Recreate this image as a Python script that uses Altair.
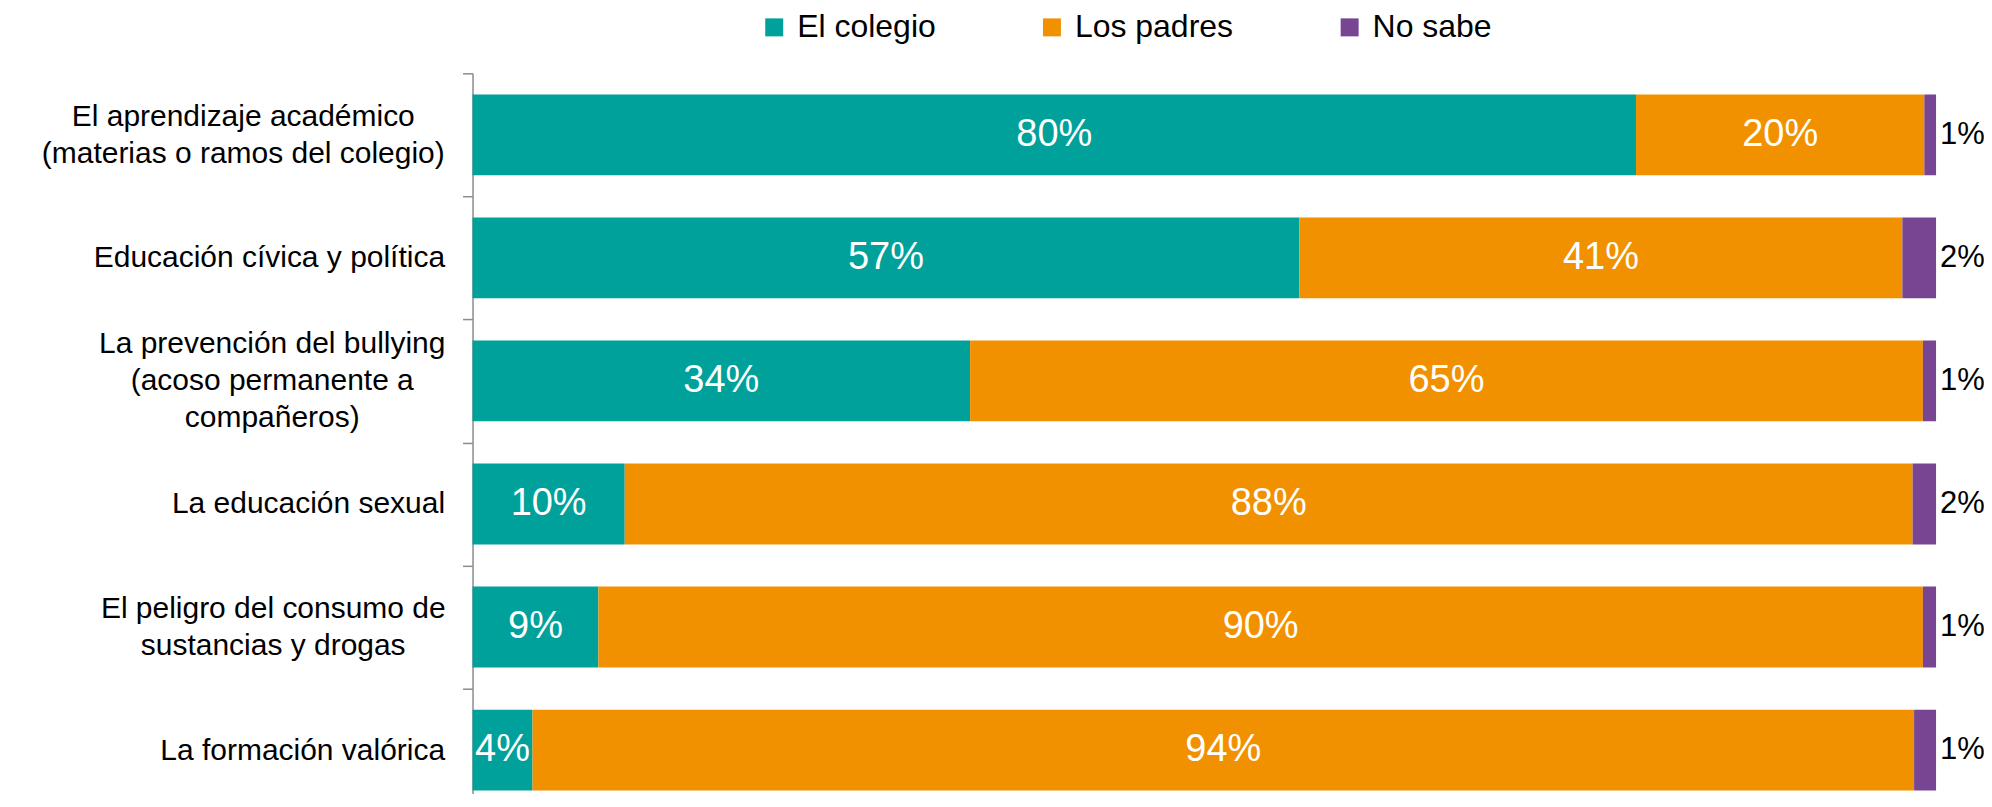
import altair as alt
import pandas as pd

# ---- data ----
categories = [
    "El aprendizaje académico|(materias o ramos del colegio)",
    "Educación cívica y política",
    "La prevención del bullying|(acoso permanente a|compañeros)",
    "La educación sexual",
    "El peligro del consumo de|sustancias y drogas",
    "La formación valórica",
]
series = ["El colegio", "Los padres", "No sabe"]
colors = ["#00A19A", "#F29100", "#774591"]

colegio = [79.5, 56.5, 34.0, 10.4, 8.6, 4.1]
padres = [19.7, 41.2, 65.1, 88.0, 90.5, 94.4]
no_sabe = [0.8, 2.3, 0.9, 1.6, 0.9, 1.5]

colegio_lbl = ["80%", "57%", "34%", "10%", "9%", "4%"]
padres_lbl = ["20%", "41%", "65%", "88%", "90%", "94%"]
no_sabe_lbl = ["1%", "2%", "1%", "2%", "1%", "1%"]

rows = []
for vals, lbls, s_i in ((colegio, colegio_lbl, 0), (padres, padres_lbl, 1), (no_sabe, no_sabe_lbl, 2)):
    for c, v, l in zip(categories, vals, lbls):
        rows.append({"category": c, "series": series[s_i], "order": s_i, "value": v, "label": l})
df = pd.DataFrame(rows)

FONT = "Liberation Sans"
LABEL_FS = 30
LINE_H = 37
multi = [c for c in categories if "|" in c]
# approx. widths (in em) of the widest line of each multi-line label, used to centre the lines
widest_em = {categories[0]: 13.45, categories[2]: 11.56, categories[4]: 11.5}

label_align = {
    "condition": [{"test": f"datum.value === {repr(c)}", "value": "center"} for c in multi],
    "value": "right",
}
label_pad = {
    "condition": [
        {"test": f"datum.value === {repr(c)}", "value": 18 + round(widest_em[c] * LABEL_FS / 2)}
        for c in multi
    ],
    "value": 18,
}
label_off = {
    "condition": [
        {"test": f"datum.value === {repr(c)}", "value": -(c.count("|") * LINE_H) / 2}
        for c in multi
    ],
    "value": 0,
}

base = (
    alt.Chart(df)
    .transform_joinaggregate(total="sum(value)", groupby=["category"])
    .transform_calculate(pct="datum.value / datum.total")
    .transform_stack(stack="pct", groupby=["category"], as_=["x0", "x1"],
                     sort=[alt.SortField("order", order="ascending")])
    .transform_calculate(mid="(datum.x0 + datum.x1) / 2")
)

y_scale = alt.Scale(paddingInner=0, paddingOuter=0)
y_enc = alt.Y(
    "category:N",
    sort=categories,
    scale=y_scale,
    axis=alt.Axis(
        title=None,
        domainColor="#8c8c8c",
        domainWidth=1.5,
        tickColor="#8c8c8c",
        tickWidth=1.5,
        tickSize=10,
        tickBand="extent",
        labelFont=FONT,
        labelFontSize=LABEL_FS,
        labelColor="black",
        labelLimit=1000,
        labelLineHeight=LINE_H,
        labelBaseline="middle",
        labelExpr="split(datum.label, '|')",
        labelAlign=label_align,
        labelPadding=label_pad,
        labelOffset=label_off,
    ),
)
x_scale = alt.Scale(domain=[0, 1], nice=False, zero=True)

bars = base.mark_bar(height=alt.RelativeBandSize(0.657)).encode(
    y=y_enc,
    x=alt.X("x0:Q", scale=x_scale, axis=None),
    x2="x1:Q",
    color=alt.Color(
        "series:N",
        sort=series,
        scale=alt.Scale(domain=series, range=colors),
        legend=alt.Legend(
            orient="none",
            legendX=286,
            legendY=-62,
            direction="horizontal",
            title=None,
            labelFont=FONT,
            labelFontSize=32,
            labelColor="black",
            symbolType="square",
            symbolSize=324,
            symbolStrokeWidth=0,
            symbolOpacity=1,
            labelOffset=7,
            columnPadding=100,
        ),
    ),
)

inside = base.transform_filter("datum.series !== 'No sabe'").mark_text(
    color="white", font=FONT, fontSize=38, align="center", baseline="middle"
).encode(
    y=alt.Y("category:N", sort=categories),
    x=alt.X("mid:Q", scale=x_scale),
    text="label:N",
)

outside = base.transform_filter("datum.series === 'No sabe'").mark_text(
    color="black", font=FONT, fontSize=31, align="left", baseline="middle", dx=4
).encode(
    y=alt.Y("category:N", sort=categories),
    x=alt.X("x1:Q", scale=x_scale),
    text="label:N",
)

chart = (
    alt.layer(bars, inside, outside)
    .properties(
        width=1465,
        height=739,
        padding={"left": 465, "top": 65, "right": 48, "bottom": -18},
        autosize=alt.AutoSizeParams(type="none"),
        background="white",
    )
    .configure_view(stroke=None)
)

chart.save("out.html", embed_options={"renderer": "svg", "actions": False})
